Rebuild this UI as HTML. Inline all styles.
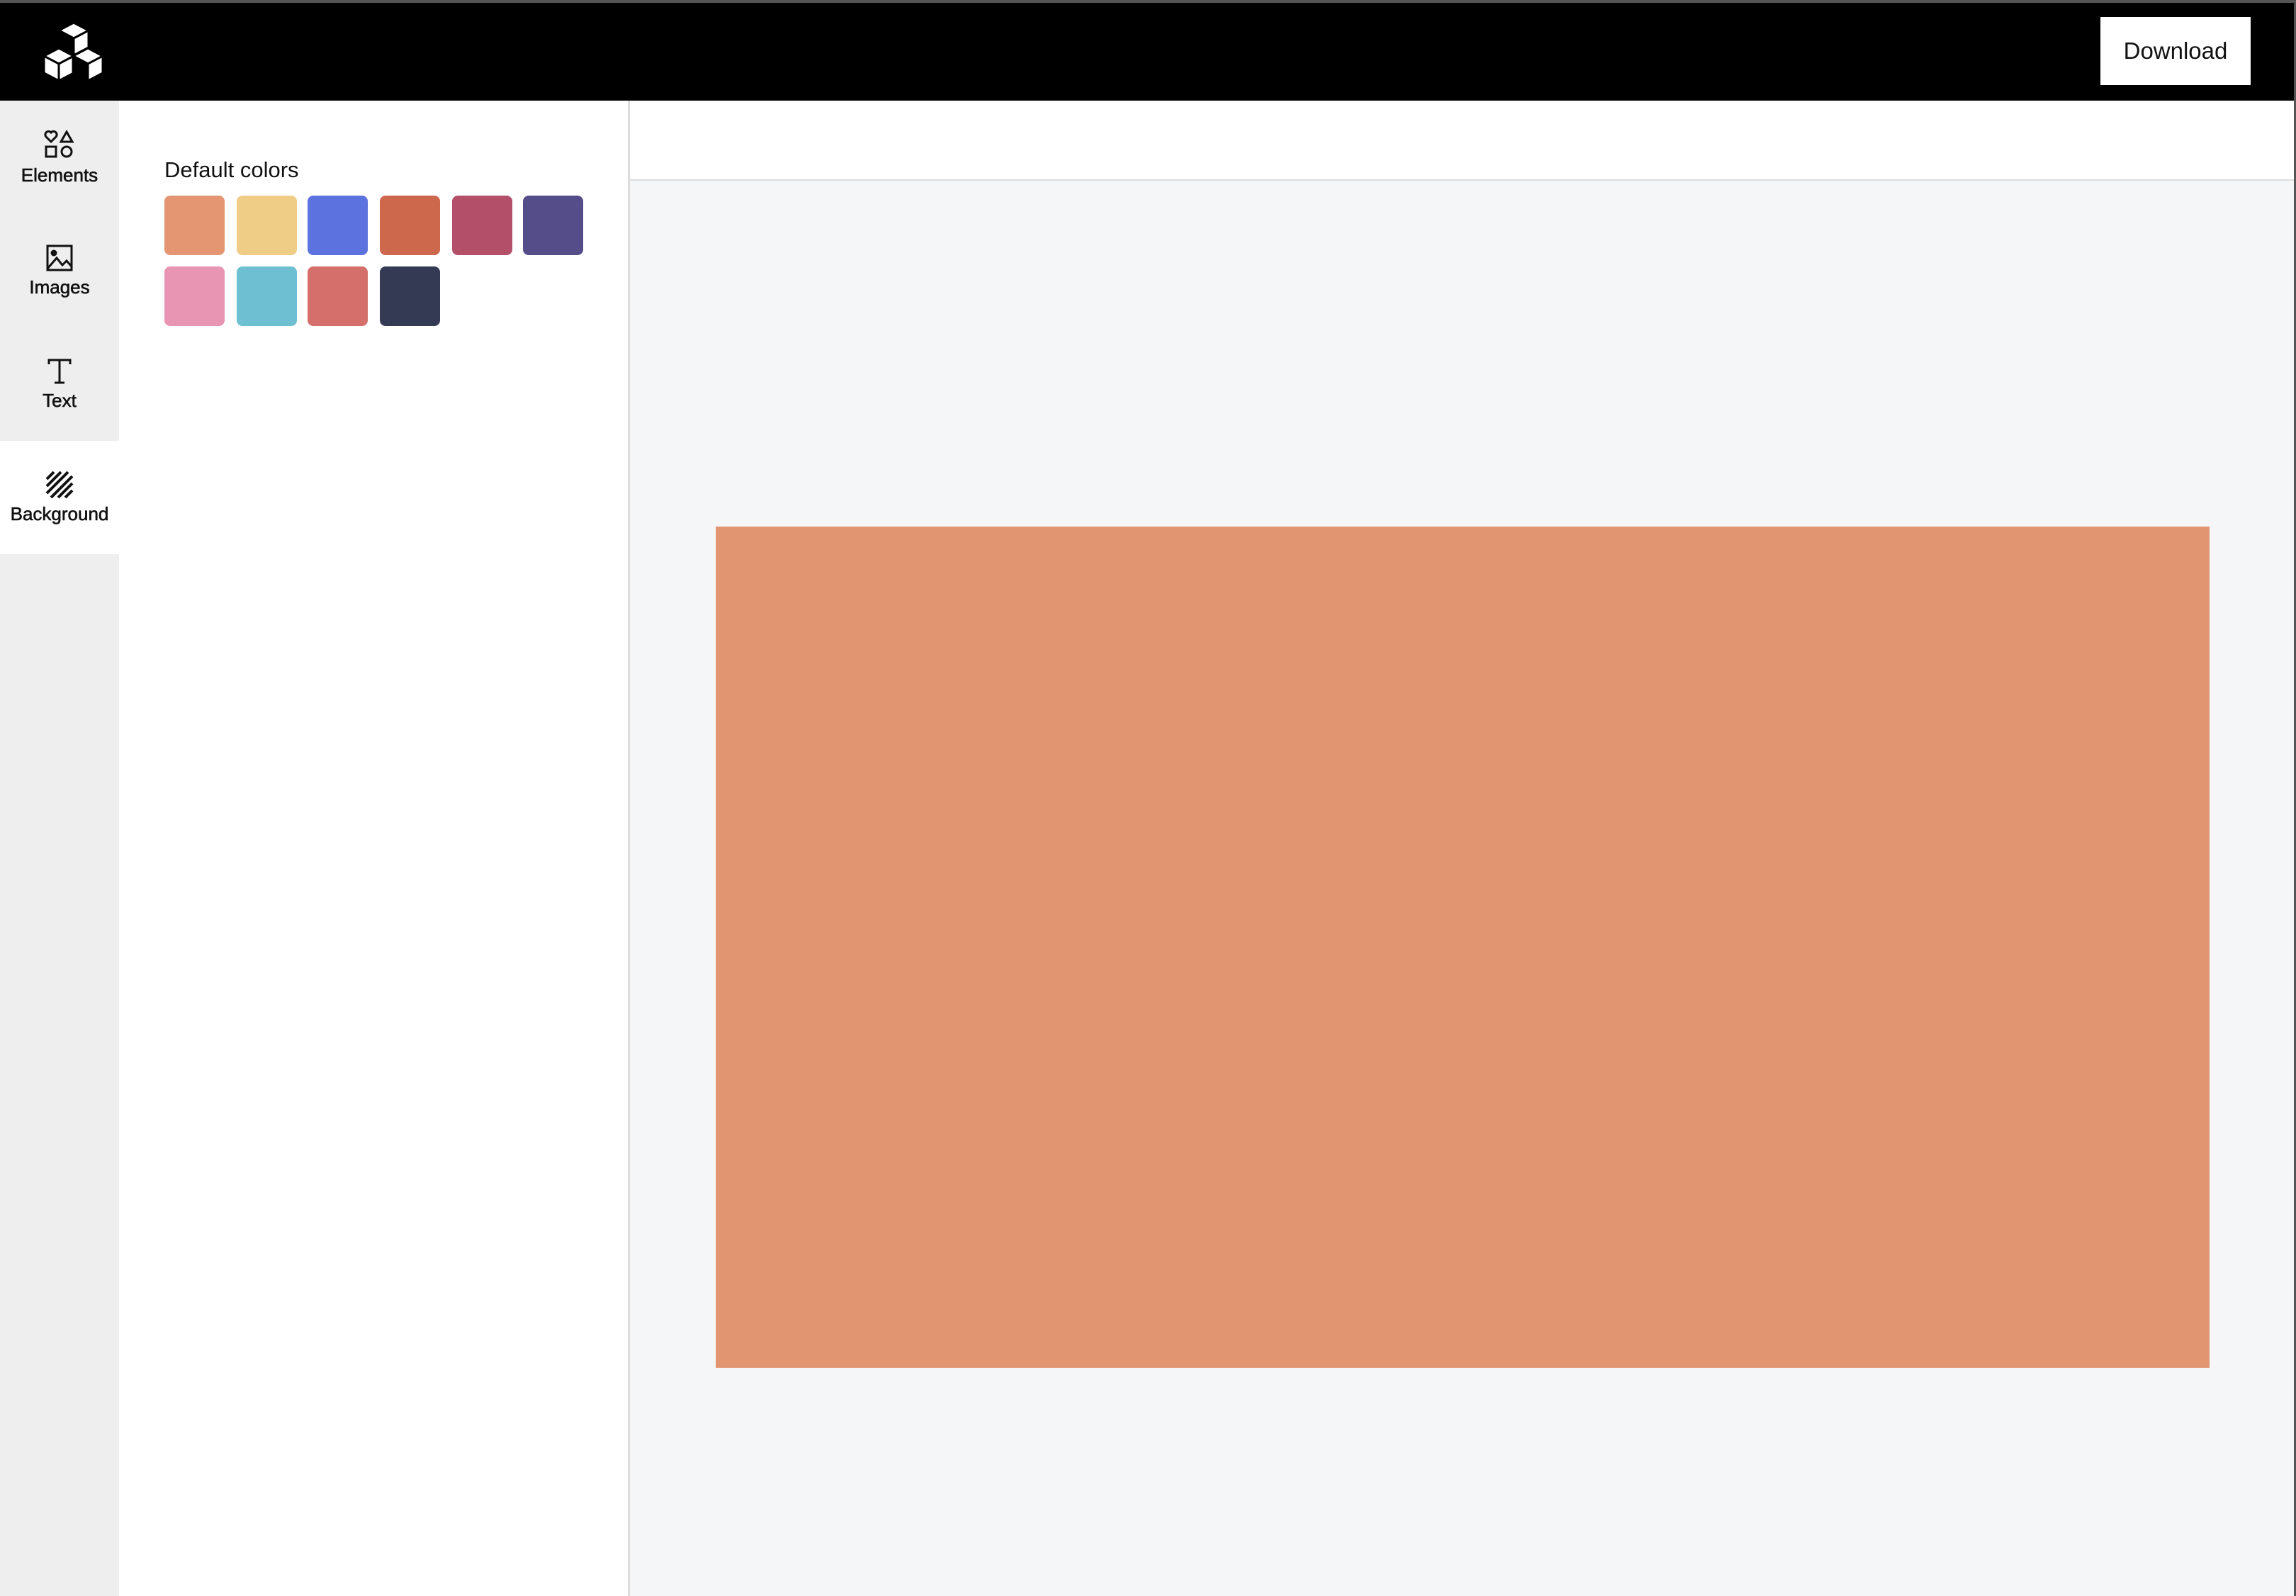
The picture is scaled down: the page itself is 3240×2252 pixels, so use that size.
<!DOCTYPE html>
<html><head><meta charset="utf-8"><style>
*{box-sizing:border-box;margin:0;padding:0}
body{width:3240px;height:2252px;overflow:hidden;font-family:"Liberation Sans",sans-serif;background:#fff;position:relative}
.abs{position:absolute}
#header{left:0;top:0;width:3240px;height:142px;background:#000;border-top:4px solid #555}
#dl{left:2964px;top:20px;width:212px;height:96px;background:#fff;color:#111;font-size:33px;display:flex;align-items:center;justify-content:center;border:none}
#side{left:0;top:142px;width:168px;height:2110px;background:#eeeeee}
.item{position:absolute;left:0;width:168px;height:160px;display:flex;flex-direction:column;align-items:center;justify-content:center;font-size:26px;color:#111;-webkit-text-stroke:0.6px #111}
.item svg{margin-bottom:6px;-webkit-text-stroke:0}
#panel{left:168px;top:142px;width:721px;height:2110px;background:#fff;border-right:3px solid #dcdcdc}
#title{left:232px;top:222px;font-size:31px;color:#111}
.sw{position:absolute;width:85px;height:84px;border-radius:8px}
#topbar{left:889px;top:142px;width:2349px;height:113px;background:#fff;border-bottom:2px solid #dcdcdc}
#canvas{left:889px;top:255px;width:2349px;height:1997px;background:#f5f6f8}
#art{left:1010px;top:743px;width:2108px;height:1187px;background:#e29571}
#redge{left:3237px;top:0;width:3px;height:2252px;background:#555}
</style></head><body>
<div id="header" class="abs">
  <svg class="abs" style="left:60px;top:26px" width="90" height="90" viewBox="0 0 90 90">
    <g stroke="#000" stroke-width="3" stroke-linejoin="round">
      <g transform="translate(24,2)">
        <polygon points="20,0 41,11 41,35 20,46 -1,35 -1,11" fill="#fff"/>
        <polyline points="-1,11 20,22 41,11" fill="none"/><line x1="20" y1="22" x2="20" y2="46"/>
        <polygon points="-1,11 20,22 20,46 -1,35" fill="#000"/>
      </g>
      <g transform="translate(3,38)">
        <polygon points="20,0 41,11 41,35 20,46 -1,35 -1,11" fill="#fff"/>
        <polyline points="-1,11 20,22 41,11" fill="none"/><line x1="20" y1="22" x2="20" y2="46"/>
      </g>
      <g transform="translate(44,38)">
        <polygon points="20,0 41,11 41,35 20,46 -1,35 -1,11" fill="#fff"/>
        <polyline points="-1,11 20,22 41,11" fill="none"/><line x1="20" y1="22" x2="20" y2="46"/>
        <polygon points="-1,11 20,22 20,46 -1,35" fill="#000"/>
      </g>
    </g>
  </svg>
  <button id="dl" class="abs">Download</button>
</div>
<div id="side" class="abs">
  <div class="item" style="top:0">
    <svg width="44" height="44" viewBox="0 0 44 44" fill="none" stroke="#111" stroke-width="3"><path d="M10 18 L3 11 A4 4 0 0 1 10 5 A4 4 0 0 1 17 11 Z"/><polygon points="32,4 40,18 24,18"/><rect x="3" y="25" width="14" height="14"/><circle cx="32" cy="32" r="7"/></svg>
    <span>Elements</span></div>
  <div class="item" style="top:160px">
    <svg width="40" height="40" viewBox="0 0 40 40" fill="none" stroke="#111" stroke-width="3"><rect x="3" y="3" width="34" height="34"/><circle cx="12" cy="13" r="3" fill="#111"/><polyline points="3,35 16,20 24,30 30,24 37,32"/></svg>
    <span>Images</span></div>
  <div class="item" style="top:320px">
    <svg width="40" height="40" viewBox="0 0 40 40" fill="none" stroke="#111" stroke-width="3"><path d="M5 10 V4 H35 V10 M20 4 V36 M13 36 H27"/></svg>
    <span>Text</span></div>
  <div class="item" style="top:480px;background:#fff">
    <svg width="40" height="40" viewBox="0 0 40 40" stroke="#111" stroke-width="4"><line x1="2" y1="12" x2="12" y2="2"/><line x1="2" y1="22" x2="22" y2="2"/><line x1="2" y1="32" x2="32" y2="2"/><line x1="8" y1="38" x2="38" y2="8"/><line x1="18" y1="38" x2="38" y2="18"/><line x1="28" y1="38" x2="38" y2="28"/></svg>
    <span>Background</span></div>
</div>
<div id="panel" class="abs"></div>
<div id="title" class="abs">Default colors</div>
<div id="swatches"></div>
<div id="topbar" class="abs"></div>
<div id="canvas" class="abs"></div>
<div id="art" class="abs"></div>
<div id="redge" class="abs"></div>
<script>
const colors=["#e39671","#efcd87","#5c72de","#cd684d","#b34f69","#554c8a","#e894b3","#6dbfd1","#d46f6b","#353a54"];
const xs=[232,334,434,536,638,738];
const host=document.getElementById('swatches');
colors.forEach((c,i)=>{
  const d=document.createElement('div');
  d.className='sw';
  d.style.left=xs[i%6]+'px';
  d.style.top=(i<6?276:376)+'px';
  d.style.background=c;
  
  
  host.appendChild(d);
});
</script>
</body></html>
